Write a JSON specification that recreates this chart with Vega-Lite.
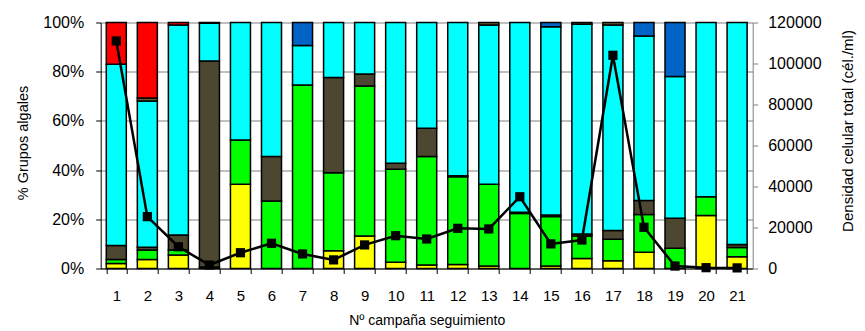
{
  "$schema": "https://vega.github.io/schema/vega-lite/v6.json",
  "autosize": {"type": "none"},
  "width": 652,
  "height": 246,
  "padding": {"left": 100.7, "top": 22.5, "right": 112.3, "bottom": 62.5},
  "background": "white",
  "config": {
    "font": "Liberation Sans",
    "view": {"stroke": null},
    "axis": {"labelColor": "black", "titleColor": "black", "labelFont": "Liberation Sans", "titleFont": "Liberation Sans", "titleFontWeight": "normal"}
  },
  "datasets": {
    "grupos": [
      {"c": 1, "g": "amarillo", "o": 1, "v": 2},
      {"c": 1, "g": "verde", "o": 2, "v": 1.7},
      {"c": 1, "g": "marron", "o": 3, "v": 5.6},
      {"c": 1, "g": "cian", "o": 4, "v": 73.7},
      {"c": 1, "g": "rojo", "o": 7, "v": 17},
      {"c": 2, "g": "amarillo", "o": 1, "v": 3.7},
      {"c": 2, "g": "verde", "o": 2, "v": 3.8},
      {"c": 2, "g": "marron", "o": 3, "v": 1.1},
      {"c": 2, "g": "cian", "o": 4, "v": 59.5},
      {"c": 2, "g": "otros", "o": 5, "v": 1.2},
      {"c": 2, "g": "rojo", "o": 7, "v": 30.7},
      {"c": 3, "g": "amarillo", "o": 1, "v": 5.5},
      {"c": 3, "g": "verde", "o": 2, "v": 2},
      {"c": 3, "g": "marron", "o": 3, "v": 6.1},
      {"c": 3, "g": "cian", "o": 4, "v": 85.4},
      {"c": 3, "g": "rojo", "o": 7, "v": 1},
      {"c": 4, "g": "amarillo", "o": 1, "v": 0.6},
      {"c": 4, "g": "marron", "o": 3, "v": 83.7},
      {"c": 4, "g": "cian", "o": 4, "v": 15.4},
      {"c": 4, "g": "otros", "o": 5, "v": 0.3},
      {"c": 5, "g": "amarillo", "o": 1, "v": 34.2},
      {"c": 5, "g": "verde", "o": 2, "v": 18},
      {"c": 5, "g": "cian", "o": 4, "v": 47.8},
      {"c": 6, "g": "verde", "o": 2, "v": 27.4},
      {"c": 6, "g": "marron", "o": 3, "v": 18.1},
      {"c": 6, "g": "cian", "o": 4, "v": 54.5},
      {"c": 7, "g": "verde", "o": 2, "v": 74.6},
      {"c": 7, "g": "cian", "o": 4, "v": 16},
      {"c": 7, "g": "azul", "o": 6, "v": 9.4},
      {"c": 8, "g": "amarillo", "o": 1, "v": 7.2},
      {"c": 8, "g": "verde", "o": 2, "v": 31.7},
      {"c": 8, "g": "marron", "o": 3, "v": 38.7},
      {"c": 8, "g": "cian", "o": 4, "v": 22.4},
      {"c": 9, "g": "amarillo", "o": 1, "v": 13.2},
      {"c": 9, "g": "verde", "o": 2, "v": 61},
      {"c": 9, "g": "marron", "o": 3, "v": 4.9},
      {"c": 9, "g": "cian", "o": 4, "v": 20.9},
      {"c": 10, "g": "amarillo", "o": 1, "v": 2.5},
      {"c": 10, "g": "verde", "o": 2, "v": 37.8},
      {"c": 10, "g": "marron", "o": 3, "v": 2.5},
      {"c": 10, "g": "cian", "o": 4, "v": 57.2},
      {"c": 11, "g": "amarillo", "o": 1, "v": 1.4},
      {"c": 11, "g": "verde", "o": 2, "v": 44.1},
      {"c": 11, "g": "marron", "o": 3, "v": 11.5},
      {"c": 11, "g": "cian", "o": 4, "v": 43},
      {"c": 12, "g": "amarillo", "o": 1, "v": 1.6},
      {"c": 12, "g": "verde", "o": 2, "v": 35.7},
      {"c": 12, "g": "marron", "o": 3, "v": 0.4},
      {"c": 12, "g": "cian", "o": 4, "v": 62.3},
      {"c": 13, "g": "amarillo", "o": 1, "v": 1},
      {"c": 13, "g": "verde", "o": 2, "v": 33.2},
      {"c": 13, "g": "cian", "o": 4, "v": 64.8},
      {"c": 13, "g": "otros", "o": 5, "v": 1},
      {"c": 14, "g": "verde", "o": 2, "v": 22.4},
      {"c": 14, "g": "marron", "o": 3, "v": 0.5},
      {"c": 14, "g": "cian", "o": 4, "v": 77.1},
      {"c": 15, "g": "amarillo", "o": 1, "v": 1},
      {"c": 15, "g": "verde", "o": 2, "v": 20.1},
      {"c": 15, "g": "marron", "o": 3, "v": 0.6},
      {"c": 15, "g": "cian", "o": 4, "v": 76.6},
      {"c": 15, "g": "azul", "o": 6, "v": 1.7},
      {"c": 16, "g": "amarillo", "o": 1, "v": 4.1},
      {"c": 16, "g": "verde", "o": 2, "v": 9.1},
      {"c": 16, "g": "marron", "o": 3, "v": 0.8},
      {"c": 16, "g": "cian", "o": 4, "v": 85.3},
      {"c": 16, "g": "otros", "o": 5, "v": 0.7},
      {"c": 17, "g": "amarillo", "o": 1, "v": 3.2},
      {"c": 17, "g": "verde", "o": 2, "v": 8.7},
      {"c": 17, "g": "marron", "o": 3, "v": 3.5},
      {"c": 17, "g": "cian", "o": 4, "v": 83.6},
      {"c": 17, "g": "otros", "o": 5, "v": 1},
      {"c": 18, "g": "amarillo", "o": 1, "v": 6.6},
      {"c": 18, "g": "verde", "o": 2, "v": 15.4},
      {"c": 18, "g": "marron", "o": 3, "v": 5.6},
      {"c": 18, "g": "cian", "o": 4, "v": 66.9},
      {"c": 18, "g": "azul", "o": 6, "v": 5.5},
      {"c": 19, "g": "verde", "o": 2, "v": 8.2},
      {"c": 19, "g": "marron", "o": 3, "v": 12.2},
      {"c": 19, "g": "cian", "o": 4, "v": 57.6},
      {"c": 19, "g": "azul", "o": 6, "v": 22},
      {"c": 20, "g": "amarillo", "o": 1, "v": 21.5},
      {"c": 20, "g": "verde", "o": 2, "v": 7.7},
      {"c": 20, "g": "cian", "o": 4, "v": 70.8},
      {"c": 21, "g": "amarillo", "o": 1, "v": 4.8},
      {"c": 21, "g": "verde", "o": 2, "v": 3.7},
      {"c": 21, "g": "marron", "o": 3, "v": 1.3},
      {"c": 21, "g": "cian", "o": 4, "v": 90.2}
    ],
    "densidad": [
      {"c": 1, "d": 111000},
      {"c": 2, "d": 25300},
      {"c": 3, "d": 10600},
      {"c": 4, "d": 1700},
      {"c": 5, "d": 7700},
      {"c": 6, "d": 12300},
      {"c": 7, "d": 7100},
      {"c": 8, "d": 4200},
      {"c": 9, "d": 11500},
      {"c": 10, "d": 16000},
      {"c": 11, "d": 14400},
      {"c": 12, "d": 19600},
      {"c": 13, "d": 19300},
      {"c": 14, "d": 35000},
      {"c": 15, "d": 12000},
      {"c": 16, "d": 13900},
      {"c": 17, "d": 104000},
      {"c": 18, "d": 20100},
      {"c": 19, "d": 1200},
      {"c": 20, "d": 400},
      {"c": 21, "d": 300}
    ]
  },
  "encoding": {
    "x": {
      "field": "c",
      "type": "ordinal",
      "scale": {"paddingInner": 0.355, "paddingOuter": 0.18},
      "axis": {
        "title": "Nº campaña seguimiento",
        "titleFontSize": 14,
        "titleBaseline": "alphabetic",
        "titleY": 55.5,
        "labelAngle": 0,
        "labelFontSize": 15,
        "labelPadding": 15,
        "tickBand": "extent",
        "tickSize": 5,
        "tickColor": "black",
        "domainColor": "black",
        "grid": false
      }
    }
  },
  "layer": [
    {
      "data": {"name": "grupos"},
      "mark": {"type": "bar", "stroke": "black", "strokeWidth": 1.5},
      "encoding": {
        "y": {
          "field": "v",
          "type": "quantitative",
          "stack": "normalize",
          "scale": {"domain": [0, 1], "nice": false},
          "axis": {
            "title": "% Grupos algales",
            "titleFontSize": 14.5,
            "titleAngle": 270,
            "titleX": -77,
            "titleY": 120,
            "titleAlign": "center",
            "titleBaseline": "middle",
            "format": ".0%",
            "values": [0, 0.2, 0.4, 0.6, 0.8, 1],
            "labelFontSize": 16,
            "labelPadding": 12,
            "tickSize": 5,
            "tickColor": "black",
            "domainColor": "black",
            "grid": true,
            "gridColor": "#808080",
            "gridWidth": 1
          }
        },
        "color": {
          "field": "g",
          "type": "nominal",
          "scale": {
            "domain": ["amarillo", "verde", "marron", "cian", "otros", "azul", "rojo"],
            "range": ["#ffff00", "#00ff00", "#4d4731", "#00ffff", "#6b5e2e", "#0063c6", "#ff0000"]
          },
          "legend": null
        },
        "order": {"field": "o", "type": "quantitative"}
      }
    },
    {
      "data": {"name": "densidad"},
      "mark": {"type": "line", "color": "black", "strokeWidth": 2.5, "point": {"shape": "square", "size": 85, "filled": true, "color": "black"}},
      "encoding": {
        "y": {
          "field": "d",
          "type": "quantitative",
          "scale": {"domain": [0, 120000], "nice": false},
          "axis": {
            "orient": "right",
            "title": "Densidad celular total (cél./ml)",
            "titleFontSize": 15,
            "titleAngle": 270,
            "titleX": 95,
            "titleY": 108,
            "titleAlign": "center",
            "titleBaseline": "middle",
            "format": "d",
            "values": [0, 20000, 40000, 60000, 80000, 100000, 120000],
            "labelFontSize": 16,
            "labelAlign": "left",
            "labelPadding": 10,
            "tickSize": 5,
            "tickColor": "#808080",
            "domainColor": "#808080",
            "grid": false
          }
        }
      }
    }
  ],
  "resolve": {"scale": {"y": "independent"}}
}
